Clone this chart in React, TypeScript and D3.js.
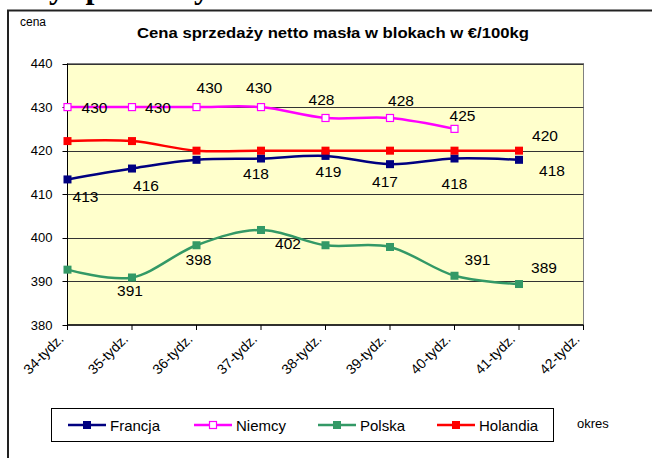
import React, { useEffect, useRef } from "react";
import * as d3 from "d3";

const categories = ["34-tydz.", "35-tydz.", "36-tydz.", "37-tydz.", "38-tydz.", "39-tydz.", "40-tydz.", "41-tydz.", "42-tydz."];
const yTicks = [380, 390, 400, 410, 420, 430, 440];

const francja = [413.4, 415.9, 417.9, 418.2, 418.8, 416.9, 418.2, 417.9];
const niemcy = [430, 430, 430, 430, 427.5, 427.5, 425, null];
const polska = [392.7, 390.9, 398.3, 401.8, 398.3, 397.9, 391.3, 389.4];
const holandia = [422.2, 422.2, 420, 420, 420, 420, 420, 420];

// label offsets (px from the point), null = label not shown
const francjaLabels = [[18, 17], [14, 17], null, [-5, 15], [3, 16], [-5, 17], [0, 25], [33, 11]];
const niemcyLabels = [[27, 0], [26, 0], [13, -20], [-2, -20], [-4, -18], [11, -17], [8, -13], null];
const polskaLabels = [null, [-2, 13], [2, 14], [27, 14], null, null, [23, -16], [25, -17]];
const holandiaLabels = [null, null, null, null, null, null, null, [26, -15]];

const series = [
  { name: "Francja", values: francja, labels: francjaLabels, color: "#000080", hollow: false },
  { name: "Niemcy", values: niemcy, labels: niemcyLabels, color: "#FF00FF", hollow: true },
  { name: "Polska", values: polska, labels: polskaLabels, color: "#339966", hollow: false },
  { name: "Holandia", values: holandia, labels: holandiaLabels, color: "#FF0000", hollow: false },
];
const drawOrder = [2, 0, 3, 1];

const App = () => {
  const svgRef = useRef<SVGSVGElement>(null);

  useEffect(() => {
    const width = 652;
    const height = 458;
    const margin = { top: 63.5, right: 68.5, bottom: 133, left: 67.5 };
    const font = "'Liberation Sans', Arial, sans-serif";

    const svg = d3.select(svgRef.current);
    svg.selectAll("*").remove();
    svg.attr("width", width).attr("height", height);

    svg.append("rect").attr("width", width).attr("height", height).attr("fill", "#fff");

    // heading of the document above the chart, cut off at the top
    svg
      .append("text")
      .attr("x", -6)
      .attr("y", -2)
      .attr("font-family", "'Liberation Serif', 'Times New Roman', serif")
      .attr("font-weight", "bold")
      .attr("font-size", 32)
      .text("Ceny sprzedaży masła");

    // chart area frame
    svg
      .append("rect")
      .attr("x", 8)
      .attr("y", 10.5)
      .attr("width", 700)
      .attr("height", 500)
      .attr("fill", "none")
      .attr("stroke", "#222")
      .attr("stroke-width", 2);

    const x = d3
      .scalePoint()
      .domain(categories)
      .range([margin.left, width - margin.right]);

    const y = d3
      .scaleLinear()
      .domain([380, 440])
      .range([height - margin.bottom, margin.top]);

    const x0 = margin.left;
    const x1 = width - margin.right;
    const yTop = margin.top;
    const yBot = height - margin.bottom;

    svg
      .append("rect")
      .attr("x", x0)
      .attr("y", yTop)
      .attr("width", x1 - x0)
      .attr("height", yBot - yTop)
      .attr("fill", "#FFFFCC")
      .attr("stroke", "#808080")
      .attr("stroke-width", 1);

    // gridlines
    svg
      .append("g")
      .selectAll("line")
      .data(yTicks.slice(1))
      .join("line")
      .attr("x1", x0)
      .attr("x2", x1)
      .attr("y1", (d) => Math.round(y(d)) + 0.5)
      .attr("y2", (d) => Math.round(y(d)) + 0.5)
      .attr("stroke", "#333")
      .attr("stroke-width", 1);

    // y axis
    const yAxis = svg.append("g");
    yAxis.append("line").attr("x1", x0).attr("x2", x0).attr("y1", yTop).attr("y2", yBot).attr("stroke", "#000");
    yAxis
      .selectAll("line.tick")
      .data(yTicks)
      .join("line")
      .attr("class", "tick")
      .attr("x1", x0 - 5)
      .attr("x2", x0)
      .attr("y1", (d) => Math.round(y(d)) + 0.5)
      .attr("y2", (d) => Math.round(y(d)) + 0.5)
      .attr("stroke", "#000");
    yAxis
      .selectAll("text")
      .data(yTicks)
      .join("text")
      .attr("x", x0 - 15)
      .attr("y", (d) => y(d) + 4.5)
      .attr("text-anchor", "end")
      .attr("font-family", font)
      .attr("font-size", 13)
      .attr("fill", "#000")
      .text((d) => d);

    // x axis
    const xAxis = svg.append("g");
    xAxis.append("line").attr("x1", x0).attr("x2", x1).attr("y1", yBot).attr("y2", yBot).attr("stroke", "#000").attr("stroke-width", 1.5);
    xAxis
      .selectAll("line.tick")
      .data(categories)
      .join("line")
      .attr("class", "tick")
      .attr("x1", (d) => x(d))
      .attr("x2", (d) => x(d))
      .attr("y1", yBot)
      .attr("y2", yBot + 5)
      .attr("stroke", "#000");
    xAxis
      .selectAll("text")
      .data(categories)
      .join("text")
      .attr("transform", (d) => `translate(${x(d) - 3},${yBot + 15}) rotate(-45)`)
      .attr("text-anchor", "end")
      .attr("font-family", font)
      .attr("font-size", 14)
      .attr("fill", "#000")
      .text((d) => d);

    // lines
    drawOrder.forEach((si) => {
      const s = series[si];
      const pts = s.values.map((v, i) => ({ cat: categories[i], v }));
      const line = d3
        .line<any>()
        .defined((d) => d.v != null)
        .x((d) => x(d.cat))
        .y((d) => y(d.v))
        .curve(d3.curveCardinal);
      svg
        .append("path")
        .datum(pts)
        .attr("d", line)
        .attr("fill", "none")
        .attr("stroke", s.color)
        .attr("stroke-width", 2.5);
      const size = s.hollow ? 7 : 8;
      svg
        .append("g")
        .selectAll("rect")
        .data(pts.filter((d) => d.v != null))
        .join("rect")
        .attr("x", (d) => x(d.cat) - size / 2)
        .attr("y", (d) => y(d.v) - size / 2)
        .attr("width", size)
        .attr("height", size)
        .attr("fill", s.hollow ? "#fff" : s.color)
        .attr("stroke", s.color)
        .attr("stroke-width", s.hollow ? 1.2 : 0);
    });

    // data labels
    const fmt = d3.format(".0f");
    series.forEach((s) => {
      s.values.forEach((v, i) => {
        const off = s.labels[i];
        if (v == null || !off) return;
        svg
          .append("text")
          .attr("x", x(categories[i]) + off[0])
          .attr("y", y(v) + off[1] + 5.5)
          .attr("text-anchor", "middle")
          .attr("font-family", font)
          .attr("font-size", 15.5)
          .attr("fill", "#000")
          .text(fmt(v));
      });
    });

    // title and axis names
    svg
      .append("text")
      .attr("x", 333)
      .attr("y", 38)
      .attr("text-anchor", "middle")
      .attr("font-family", font)
      .attr("font-weight", "bold")
      .attr("font-size", 15)
      .attr("textLength", 392)
      .attr("lengthAdjust", "spacingAndGlyphs")
      .text("Cena sprzedaży netto masła w blokach w €/100kg");
    svg.append("text").attr("x", 20).attr("y", 26).attr("font-family", font).attr("font-size", 12).text("cena");
    svg.append("text").attr("x", 577).attr("y", 428).attr("font-family", font).attr("font-size", 13).text("okres");

    // legend
    const legend = svg.append("g");
    legend
      .append("rect")
      .attr("x", 51.5)
      .attr("y", 408.5)
      .attr("width", 502)
      .attr("height", 33)
      .attr("fill", "#fff")
      .attr("stroke", "#000");
    const legendX = [87, 213, 337, 456];
    series.forEach((s, i) => {
      const cx = legendX[i];
      const cy = 425;
      legend.append("line").attr("x1", cx - 19).attr("x2", cx + 19).attr("y1", cy).attr("y2", cy).attr("stroke", s.color).attr("stroke-width", 2.5);
      const size = s.hollow ? 7 : 8;
      legend
        .append("rect")
        .attr("x", cx - size / 2)
        .attr("y", cy - size / 2)
        .attr("width", size)
        .attr("height", size)
        .attr("fill", s.hollow ? "#fff" : s.color)
        .attr("stroke", s.color)
        .attr("stroke-width", s.hollow ? 1.2 : 0);
      legend
        .append("text")
        .attr("x", cx + 23)
        .attr("y", cy + 5.5)
        .attr("font-family", font)
        .attr("font-size", 15)
        .text(s.name);
    });
  }, []);

  return <svg ref={svgRef} style={{ position: "absolute", left: 0, top: 0, display: "block" }} />;
};

export default App;
